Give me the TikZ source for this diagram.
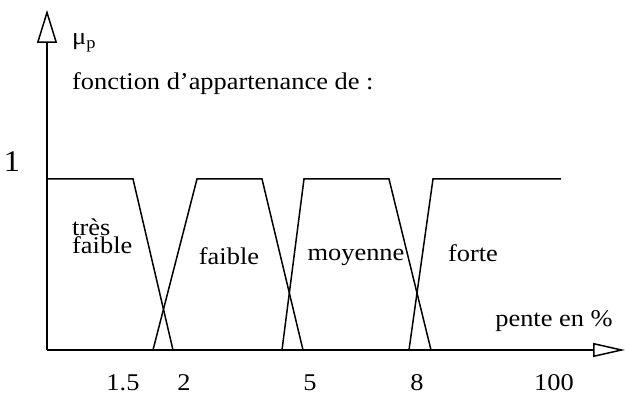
\documentclass[tikz,border=0pt]{standalone}
\usepackage{fontspec}
\setmainfont{Liberation Serif}[FakeStretch=1.1]
\usepackage{tikz}
\usetikzlibrary{positioning}
\usetikzlibrary{arrows.meta}
\tikzset{
lbl/.style={
  inner sep=0pt,
  font=\fontsize{24}{17}\selectfont,
  anchor=base
  },
mf/.style={
  line width=1.5pt,
  line join=miter
  }
}

\begin{document}
\begin{tikzpicture}[x=1pt,y=1pt]
\useasboundingbox (-47,-45) rectangle (578,350);
\coordinate (O) at (0,0);
\coordinate (ytip) at (0,340);
\coordinate (xtip) at (578,0);
\draw[mf,-{Triangle[open,length=33pt,width=20pt]}] (O) -- (ytip);
\draw[mf,-{Triangle[open,length=32pt,width=14pt]}] (O) -- (xtip);
% fonctions d'appartenance
\draw[mf] (0,171) -- (86,171) -- (126,0);
\draw[mf] (106,0) -- (150,171) -- (215,171) -- (256,0);
\draw[mf] (235,0) -- (257,171) -- (342,171) -- (384,0);
\draw[mf] (362,0) -- (386,171) -- (514,171);
\node[lbl] (un) at (-35,178) {\fontsize{30}{30}\selectfont 1};
\node[lbl,anchor=base west] (mu) at (25,305) {μ\textsubscript{p}};
\node[lbl,anchor=base west] (titre) at (25,260) {fonction d'appartenance de :};
\node[lbl,anchor=base west,align=left] (tfaible) at (25,96) {très\\faible};
\node[lbl] (faible) at (182,85) {faible};
\node[lbl] (moyenne) at (309,89) {moyenne};
\node[lbl] (forte) at (426,88) {forte};
\node[lbl] (pente) at (507,23) {pente en \%};
\node[lbl] (t15) at (76,-41) {1.5};
\node[lbl] (t2) at (137,-41) {2};
\node[lbl] (t5) at (263,-41) {5};
\node[lbl] (t8) at (370,-41) {8};
\node[lbl] (t100) at (507,-41) {100};
\end{tikzpicture}
\end{document}
